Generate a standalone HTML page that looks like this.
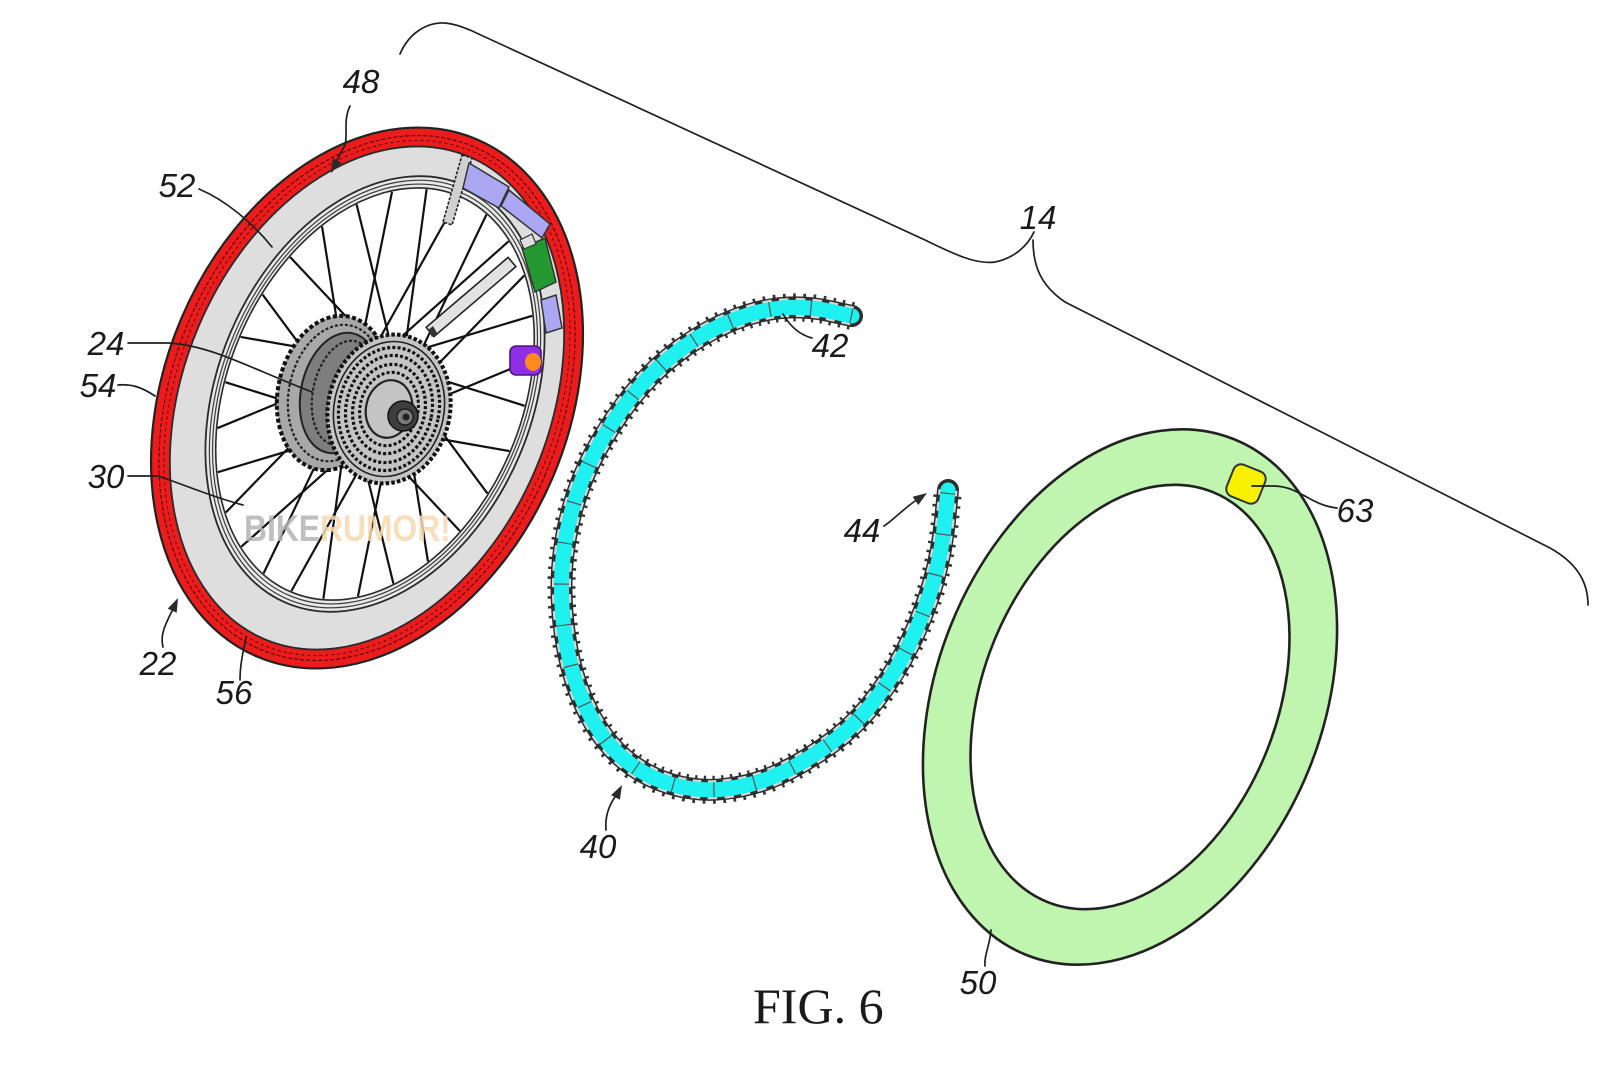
<!DOCTYPE html>
<html>
<head>
<meta charset="utf-8">
<style>
html,body{margin:0;padding:0;background:#fff;}
svg{display:block;}
.lbl{font-family:"Liberation Sans",sans-serif;font-style:italic;font-size:33px;fill:#1a1a1a;text-anchor:middle;}
.ld{fill:none;stroke:#1f1f1f;stroke-width:1.7;stroke-linecap:round;}
</style>
</head>
<body>
<svg width="1600" height="1066" viewBox="0 0 1600 1066" xmlns="http://www.w3.org/2000/svg">
<defs>
<path id="chainp" d="M 852 316 L 829 311 Q 806 306 782 308 Q 758 310 731 321 Q 704 332 678.5 351 Q 653 370 632.5 395.5 Q 612 421 595.5 451.5 Q 579 482 570.5 516 Q 562 550 561.5 583 Q 561 616 567.5 650 Q 574 684 588.5 712.5 Q 603 741 623.5 758.5 Q 644 776 670.5 784 Q 697 792 724.5 789 Q 752 786 776 775.5 Q 800 765 827 746 Q 854 727 874.5 700.5 Q 895 674 910 643 Q 925 612 933.5 581.5 Q 942 551 945 520.5 L 948 490"/>
</defs>
<rect width="1600" height="1066" fill="#fff"/>

<!-- Bracket 14 -->
<path class="ld" stroke-width="1.9" d="M 400 54 C 408 35, 425 22, 445 23 C 455 24, 462 27, 470 30 L 925 240 C 950 252, 975 265, 995 262 C 1015 258, 1028 245, 1034 232"/>
<path class="ld" stroke-width="1.9" d="M 1033 240 C 1033 265, 1040 285, 1065 302 L 1550 548 C 1575 562, 1588 580, 1588 605"/>

<!-- ===== WHEEL ===== -->
<ellipse cx="367" cy="398" rx="202" ry="281" transform="rotate(23 367 398)" fill="#ec1c1c" stroke="#222" stroke-width="2.2"/>
<ellipse cx="367" cy="398" rx="194" ry="273" transform="rotate(23 367 398)" fill="none" stroke="#5a0808" stroke-width="1.2" stroke-dasharray="4 2"/>
<ellipse cx="367" cy="398" rx="189" ry="268" transform="rotate(23 367 398)" fill="none" stroke="#5a0808" stroke-width="1" stroke-dasharray="3 3"/>
<ellipse cx="367" cy="398" rx="183" ry="262" transform="rotate(23 367 398)" fill="#dedede" stroke="#2a2a2a" stroke-width="1.8"/>
<ellipse cx="375" cy="394" rx="157" ry="227" transform="rotate(23 375 394)" fill="#e8e8e8" stroke="#2a2a2a" stroke-width="1.8"/>
<ellipse cx="375" cy="394" rx="153" ry="223" transform="rotate(23 375 394)" fill="none" stroke="#3a3a3a" stroke-width="1.2"/>
<ellipse cx="375" cy="394" rx="150" ry="219" transform="rotate(23 375 394)" fill="none" stroke="#3a3a3a" stroke-width="1.2"/>
<ellipse cx="375" cy="394" rx="147" ry="215" transform="rotate(23 375 394)" fill="#fff" stroke="#2a2a2a" stroke-width="1.6"/>

<!-- spokes -->
<g transform="translate(375 394) rotate(23) scale(146 214)" stroke="#111" stroke-width="2.2">
<line vector-effect="non-scaling-stroke" x1=".254" y1=".118" x2="1" y2="0" transform="rotate(0)"/>
<line vector-effect="non-scaling-stroke" x1=".254" y1="-.118" x2="1" y2="0" transform="rotate(12.86)"/>
<line vector-effect="non-scaling-stroke" x1=".254" y1=".118" x2="1" y2="0" transform="rotate(25.71)"/>
<line vector-effect="non-scaling-stroke" x1=".254" y1="-.118" x2="1" y2="0" transform="rotate(38.57)"/>
<line vector-effect="non-scaling-stroke" x1=".254" y1=".118" x2="1" y2="0" transform="rotate(51.43)"/>
<line vector-effect="non-scaling-stroke" x1=".254" y1="-.118" x2="1" y2="0" transform="rotate(64.29)"/>
<line vector-effect="non-scaling-stroke" x1=".254" y1=".118" x2="1" y2="0" transform="rotate(77.14)"/>
<line vector-effect="non-scaling-stroke" x1=".254" y1="-.118" x2="1" y2="0" transform="rotate(90)"/>
<line vector-effect="non-scaling-stroke" x1=".254" y1=".118" x2="1" y2="0" transform="rotate(102.86)"/>
<line vector-effect="non-scaling-stroke" x1=".254" y1="-.118" x2="1" y2="0" transform="rotate(115.71)"/>
<line vector-effect="non-scaling-stroke" x1=".254" y1=".118" x2="1" y2="0" transform="rotate(128.57)"/>
<line vector-effect="non-scaling-stroke" x1=".254" y1="-.118" x2="1" y2="0" transform="rotate(141.43)"/>
<line vector-effect="non-scaling-stroke" x1=".254" y1=".118" x2="1" y2="0" transform="rotate(154.29)"/>
<line vector-effect="non-scaling-stroke" x1=".254" y1="-.118" x2="1" y2="0" transform="rotate(167.14)"/>
<line vector-effect="non-scaling-stroke" x1=".254" y1=".118" x2="1" y2="0" transform="rotate(180)"/>
<line vector-effect="non-scaling-stroke" x1=".254" y1="-.118" x2="1" y2="0" transform="rotate(192.86)"/>
<line vector-effect="non-scaling-stroke" x1=".254" y1=".118" x2="1" y2="0" transform="rotate(205.71)"/>
<line vector-effect="non-scaling-stroke" x1=".254" y1="-.118" x2="1" y2="0" transform="rotate(218.57)"/>
<line vector-effect="non-scaling-stroke" x1=".254" y1=".118" x2="1" y2="0" transform="rotate(231.43)"/>
<line vector-effect="non-scaling-stroke" x1=".254" y1="-.118" x2="1" y2="0" transform="rotate(244.29)"/>
<line vector-effect="non-scaling-stroke" x1=".254" y1=".118" x2="1" y2="0" transform="rotate(257.14)"/>
<line vector-effect="non-scaling-stroke" x1=".254" y1="-.118" x2="1" y2="0" transform="rotate(270)"/>
<line vector-effect="non-scaling-stroke" x1=".254" y1=".118" x2="1" y2="0" transform="rotate(282.86)"/>
<line vector-effect="non-scaling-stroke" x1=".254" y1="-.118" x2="1" y2="0" transform="rotate(295.71)"/>
<line vector-effect="non-scaling-stroke" x1=".254" y1=".118" x2="1" y2="0" transform="rotate(308.57)"/>
<line vector-effect="non-scaling-stroke" x1=".254" y1="-.118" x2="1" y2="0" transform="rotate(321.43)"/>
<line vector-effect="non-scaling-stroke" x1=".254" y1=".118" x2="1" y2="0" transform="rotate(334.29)"/>
<line vector-effect="non-scaling-stroke" x1=".254" y1="-.118" x2="1" y2="0" transform="rotate(347.14)"/>
</g>

<!-- tube strip & small strip -->
<polygon points="515.9,266.6 508.1,257.4 426.1,327.4 433.9,336.6" fill="#e2e2e2" stroke="#222" stroke-width="1.6"/>
<polygon points="433,326 428,330 432,337 437,333" fill="#333"/>
<polygon points="462,155 472,158 452,225 443,222" fill="#d0d0d0" stroke="#222" stroke-width="1.6" stroke-dasharray="3 1.5"/>

<!-- rim components -->
<polygon points="469,163 509,187 499,208 463,188" fill="#aca7f2" stroke="#333" stroke-width="1.5"/>
<polygon points="509,190 550,224 542,238 501,206" fill="#aca7f2" stroke="#333" stroke-width="1.5"/>
<polygon points="522,248 545,238 556,282 535,292" fill="#23992f" stroke="#333" stroke-width="1.5"/>
<polygon points="520,240 532,234 536,244 524,249" fill="#ddd" stroke="#333" stroke-width="1.2"/>
<polygon points="541,300 556,295 562,328 546,333" fill="#aca7f2" stroke="#333" stroke-width="1.5"/>

<!-- purple nut -->
<rect x="510" y="346" width="31" height="29" rx="6" fill="#8e2fe6" stroke="#4a1580" stroke-width="1.6"/>
<ellipse cx="533" cy="362" rx="8" ry="9" fill="#ff8a1c"/>

<!-- hub body -->
<ellipse cx="333" cy="393" rx="55" ry="78" transform="rotate(12 333 393)" fill="#a8a8a8" stroke="#111" stroke-width="4" stroke-dasharray="4 2.5"/>
<ellipse cx="336" cy="393" rx="47" ry="69" transform="rotate(12 336 393)" fill="none" stroke="#222" stroke-width="2.2" stroke-dasharray="3 2"/>
<ellipse cx="340" cy="393" rx="39" ry="61" transform="rotate(12 340 393)" fill="#7e7e7e" stroke="#222" stroke-width="2"/>
<ellipse cx="344" cy="393" rx="31" ry="53" transform="rotate(12 344 393)" fill="none" stroke="#222" stroke-width="2.2" stroke-dasharray="3 2"/>

<!-- cassette -->
<g transform="translate(389 409) rotate(12)">
<ellipse rx="61" ry="75" fill="#c4c4c4" stroke="#111" stroke-width="4" stroke-dasharray="3.5 2.2"/>
<ellipse rx="55" ry="68" fill="none" stroke="#222" stroke-width="1.6"/>
<ellipse rx="50" ry="62" fill="none" stroke="#111" stroke-width="3.2" stroke-dasharray="3 2.2"/>
<ellipse rx="43" ry="54" fill="none" stroke="#111" stroke-width="3.2" stroke-dasharray="3 2.2"/>
<ellipse rx="36" ry="45" fill="none" stroke="#111" stroke-width="3.2" stroke-dasharray="3 2.2"/>
<ellipse rx="29" ry="37" fill="none" stroke="#111" stroke-width="3" stroke-dasharray="3 2.2"/>
<ellipse rx="23" ry="29" fill="none" stroke="#222" stroke-width="2.2"/>
</g>
<circle cx="403" cy="416" r="15" fill="#3e3e3e" stroke="#111" stroke-width="1.5"/>
<circle cx="405" cy="417" r="8" fill="#7a7a7a" stroke="#111" stroke-width="1.2"/>
<circle cx="406" cy="417" r="3.5" fill="#222"/>

<!-- watermark -->
<g transform="translate(244 541) scale(0.86 1)" opacity="0.85">
<text x="0" y="0" font-family="Liberation Sans, sans-serif" font-weight="bold" font-size="37"><tspan fill="#b5b5b5">BIKE</tspan><tspan fill="#f6dab0">RUMOR!</tspan></text>
</g>

<!-- ===== CHAIN ===== -->
<g fill="none" stroke-linejoin="round">
<use href="#chainp" stroke="#333" stroke-width="28" stroke-dasharray="2.5 7"/>
<use href="#chainp" stroke="#2e2e2e" stroke-width="22" stroke-linecap="round"/>
<use href="#chainp" stroke="#d8d8d8" stroke-width="19" stroke-dasharray="9 7"/>
<use href="#chainp" stroke="#1ff0f0" stroke-width="15" stroke-linecap="round"/>
<use href="#chainp" stroke="#555" stroke-width="15" stroke-dasharray="1.2 40"/>
</g>

<!-- ===== GREEN RING ===== -->
<ellipse cx="1130" cy="697" rx="193" ry="278" transform="rotate(22 1130 697)" fill="#bff5ae" stroke="#222" stroke-width="2.6"/>
<ellipse cx="1130" cy="697" rx="147" ry="221" transform="rotate(22 1130 697)" fill="#fff" stroke="#222" stroke-width="2.6"/>
<rect x="-17" y="-17" width="34" height="34" rx="8" transform="translate(1246 484) rotate(22)" fill="#f7f000" stroke="#333" stroke-width="2"/>

<!-- ===== LEADERS & ARROWS ===== -->
<path class="ld" d="M 350 106 C 343 120, 348 135, 345 145 L 336 162"/>
<polygon points="331,173 341.8,162.7 332.8,158.3" fill="#2a2a2a"/>
<path class="ld" d="M 199 189 C 225 200, 252 222, 272 247"/>
<path class="ld" d="M 128 343 L 168 343 C 210 345, 250 368, 312 392"/>
<path class="ld" d="M 118 385 C 130 384, 140 386, 155 396"/>
<path class="ld" d="M 128 476 L 158 476 C 185 485, 215 498, 243 505"/>
<path class="ld" d="M 163 647 C 160 635, 165 625, 172 611"/>
<polygon points="178,598 176.7,612.8 167.7,608.6" fill="#2a2a2a"/>
<path class="ld" d="M 240 680 C 240 665, 243 652, 246 638"/>
<path class="ld" d="M 812 338 C 800 335, 790 326, 783 314"/>
<path class="ld" d="M 884 526 C 893 520, 900 512, 915 501"/>
<polygon points="927,493 918.3,505 912.7,496.8" fill="#2a2a2a"/>
<path class="ld" d="M 606 830 C 605 818, 608 807, 615 797"/>
<polygon points="622,785 619.9,799.7 611.1,795.1" fill="#2a2a2a"/>
<path class="ld" d="M 1252 486 L 1275 486 C 1300 487, 1310 505, 1337 508"/>
<path class="ld" d="M 985 966 C 984 955, 990 945, 991 930"/>

<!-- ===== LABELS ===== -->
<text class="lbl" x="361" y="93">48</text>
<text class="lbl" x="177" y="197">52</text>
<text class="lbl" x="106" y="355">24</text>
<text class="lbl" x="98" y="397">54</text>
<text class="lbl" x="106" y="488">30</text>
<text class="lbl" x="158" y="675">22</text>
<text class="lbl" x="234" y="704">56</text>
<text class="lbl" x="830" y="357">42</text>
<text class="lbl" x="862" y="542">44</text>
<text class="lbl" x="598" y="858">40</text>
<text class="lbl" x="1038" y="229">14</text>
<text class="lbl" x="1355" y="522">63</text>
<text class="lbl" x="978" y="994">50</text>

<text x="753" y="1023" font-family="Liberation Serif, serif" font-size="50" fill="#1a1a1a">FIG. 6</text>
</svg>
</body>
</html>
